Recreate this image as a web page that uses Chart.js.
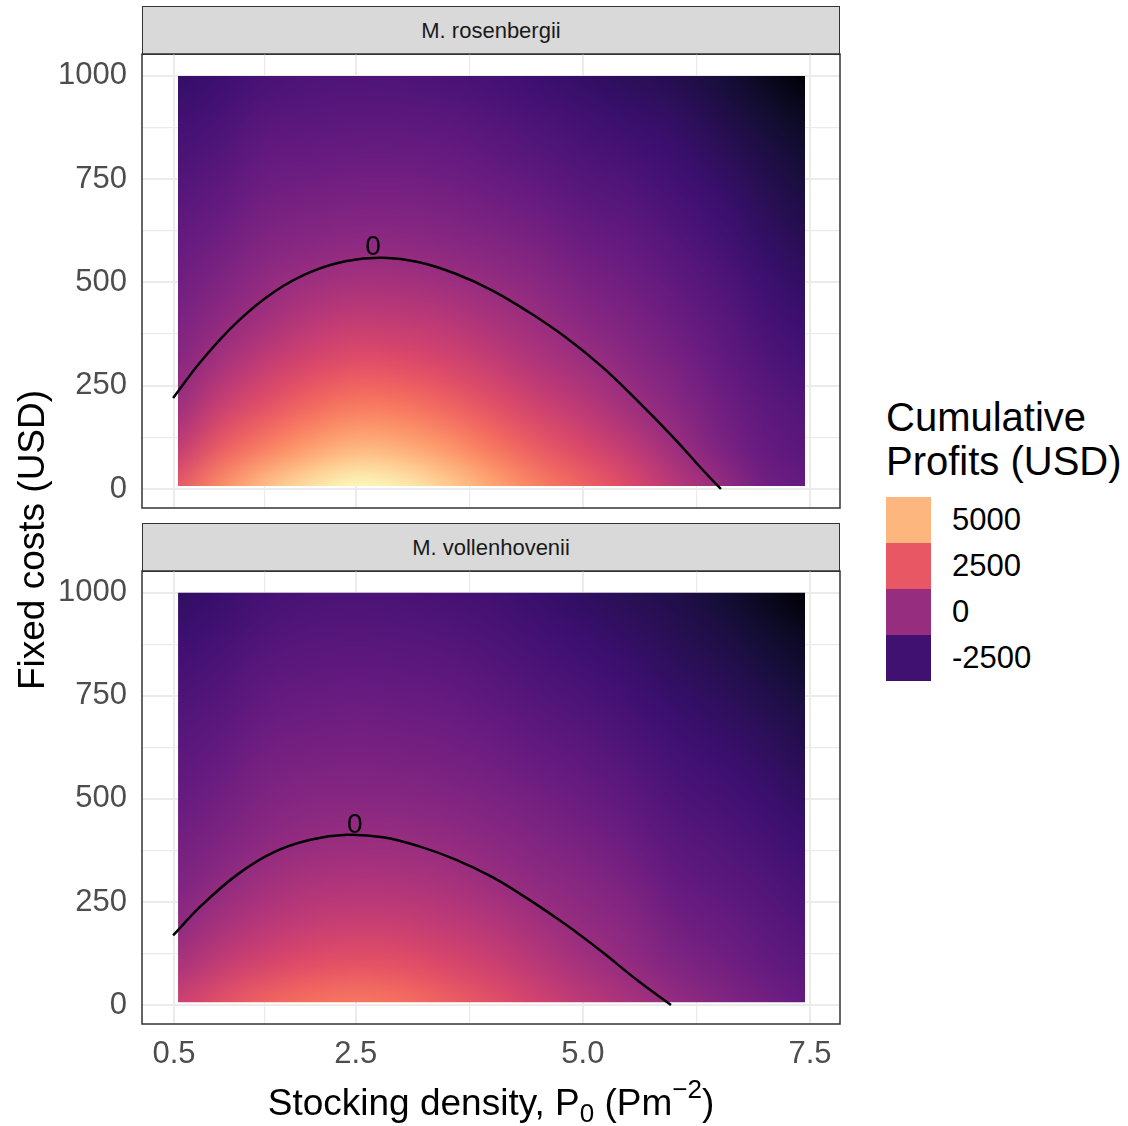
<!DOCTYPE html>
<html>
<head>
<meta charset="utf-8">
<script src="https://cdn.jsdelivr.net/npm/chart.js@4.4.1/dist/chart.umd.min.js"></script>
<style>
  body { margin: 0; background: #fff; font-family: "Liberation Sans", Arial, sans-serif; }
  #fig { position: relative; width: 1128px; height: 1126px; overflow: hidden; background: #fff; }
  canvas { position: absolute; left: 0; }
  .strip {
    position: absolute; left: 142px; width: 698px; height: 49px; box-sizing: border-box;
    background: #d9d9d9; border: 1.5px solid #333; color: #1a1a1a; font-size: 22px;
    display: flex; align-items: center; justify-content: center;
  }
  #ytitle {
    position: absolute; left: -268px; top: 518px; width: 600px; height: 44px; line-height: 44px;
    text-align: center; font-size: 37px; color: #000; transform: rotate(-90deg);
  }
  #xtitle {
    position: absolute; left: 142px; width: 698px; top: 1081px; line-height: 44px;
    text-align: center; font-size: 37px; color: #000; white-space: nowrap;
  }
  #xtitle sub, #xtitle sup { font-size: 26px; line-height: 0; }
  #xtitle sub { vertical-align: -7px; }
  #xtitle sup { vertical-align: 17px; }
  #legend { position: absolute; left: 886px; top: 395px; }
  #legend .ltitle { font-size: 40px; line-height: 44px; color: #000; white-space: nowrap; margin-bottom: 14px; }
  #legend .row { position: relative; height: 46px; }
  #legend .key { position: absolute; left: 0; top: 0; width: 45px; height: 46px; }
  #legend .lab { position: absolute; left: 66px; top: 0; line-height: 46px; font-size: 31px; color: #000; }
</style>
</head>
<body>
<div id="fig">
  <div class="strip" style="top:6px">M. rosenbergii</div>
  <canvas id="topPanel" width="846" height="462" style="top:50px"></canvas>
  <div class="strip" style="top:523px">M. vollenhovenii</div>
  <canvas id="bottomPanel" width="846" height="514" style="top:567px"></canvas>
  <div id="ytitle">Fixed costs (USD)</div>
  <div id="xtitle">Stocking density, P<sub>0</sub> (Pm<sup>&minus;2</sup>)</div>
  <div id="legend"><div class="ltitle">Cumulative<br>Profits (USD)</div></div>
</div>
<script>
// grid of the heat map: stocking density (columns) x fixed costs (rows)
const densities = [0.5, 1.0, 1.5, 2.0, 2.5, 3.0, 3.5, 4.0, 4.5, 5.0, 5.5, 6.0, 6.5, 7.0, 7.5];
const fixedCosts = [0, 100, 200, 300, 400, 500, 600, 700, 800, 900, 1000];

// cumulative profits (USD), one row per fixed cost (0 at first)
const rosenbergiiProfit = [
  [2500, 4000, 5300, 6200, 6800, 6500, 5700, 4700, 3700, 2900, 2100, 1000, 50, -1100, -1500],
  [1100, 2600, 3600, 4400, 5000, 4800, 4200, 3400, 2600, 1900, 1150, 200, -750, -1450, -1800],
  [80, 1400, 2300, 3000, 3500, 3400, 2900, 2300, 1600, 1000, 250, -400, -1100, -1700, -2050],
  [-450, 450, 1300, 1900, 2300, 2200, 1850, 1350, 750, 250, -300, -850, -1450, -2000, -2400],
  [-850, -200, 380, 1000, 1300, 1200, 1000, 550, 150, -350, -750, -1250, -1750, -2300, -2700],
  [-1200, -700, -150, 200, 450, 380, 180, -80, -400, -850, -1150, -1600, -2050, -2600, -3000],
  [-1500, -1150, -650, -450, -300, -300, -450, -650, -900, -1300, -1550, -1950, -2400, -2900, -3300],
  [-1850, -1550, -1100, -950, -850, -850, -950, -1150, -1400, -1750, -1950, -2300, -2700, -3200, -3600],
  [-2200, -1950, -1500, -1400, -1350, -1350, -1400, -1600, -1850, -2150, -2350, -2650, -3050, -3500, -3900],
  [-2550, -2300, -1900, -1800, -1750, -1750, -1800, -2000, -2250, -2500, -2750, -2950, -3400, -3850, -4400],
  [-2900, -2650, -2300, -2150, -2100, -2150, -2250, -2400, -2650, -2900, -3150, -3350, -3750, -4400, -5040]
];
const vollenhoveniiProfit = [
  [1500, 2300, 2900, 3300, 3500, 3300, 2800, 2300, 1700, 1100, 550, -50, -550, -1050, -1450],
  [450, 1200, 1800, 2200, 2350, 2250, 1900, 1500, 950, 350, -100, -650, -1050, -1450, -1800],
  [-300, 380, 900, 1250, 1400, 1350, 1100, 800, 300, -150, -450, -1100, -1400, -1750, -2100],
  [-750, -250, 250, 550, 650, 600, 450, 100, -250, -500, -900, -1450, -1750, -2050, -2400],
  [-1100, -750, -300, -50, 50, 0, -150, -350, -650, -950, -1300, -1800, -2050, -2350, -2700],
  [-1450, -1100, -700, -500, -450, -500, -600, -800, -1050, -1350, -1650, -2100, -2350, -2650, -3000],
  [-1750, -1450, -1050, -900, -850, -900, -1000, -1200, -1450, -1700, -2000, -2400, -2650, -2950, -3300],
  [-2050, -1800, -1400, -1250, -1200, -1250, -1350, -1550, -1800, -2050, -2350, -2700, -2950, -3250, -3600],
  [-2350, -2100, -1750, -1600, -1550, -1600, -1700, -1900, -2150, -2400, -2650, -3000, -3250, -3600, -3950],
  [-2700, -2450, -2100, -1950, -1900, -1950, -2050, -2200, -2450, -2700, -2950, -3250, -3550, -3950, -4450],
  [-3000, -2750, -2400, -2250, -2200, -2250, -2350, -2500, -2750, -3000, -3250, -3450, -3850, -4450, -5040]
];

// zero-profit contour
const rosenbergiiZeroDensity = [0.49, 0.8, 1.2, 1.6, 2.0, 2.4, 2.8, 3.2, 3.6, 4.0, 4.4, 4.8, 5.2, 5.6, 6.0, 6.32, 6.52];
const rosenbergiiZeroCost = [220, 310, 405, 477, 525, 552, 560, 549, 521, 481, 429, 369, 298, 214, 124, 46, 0];
const vollenhoveniiZeroDensity = [0.49, 0.8, 1.2, 1.6, 2.0, 2.4, 2.8, 3.2, 3.6, 4.0, 4.4, 4.8, 5.2, 5.6, 5.97];
const vollenhoveniiZeroCost = [169, 241, 317, 371, 401, 413, 407, 385, 353, 311, 257, 197, 131, 60, 0];
// where the "0" label of each contour sits
const zeroLabelDensity = [2.69, 2.49];
const zeroLabelCost = [586, 436];

const legendBreaks = [5000, 2500, 0, -2500];
const xTicks = [0.5, 2.5, 5.0, 7.5];
const xMinorTicks = [1.5, 3.75, 6.25];
const yTicks = [0, 250, 500, 750, 1000];
const yMinorTicks = [125, 375, 625, 875];

// axis limits and the extent of the tiles
const X_RANGE = [0.148, 7.83];
const Y_RANGE = [-46, 1053];
const HEAT_X = [0.545, 7.445];
const HEAT_Y = [7, 1000];
const FONT = "'Liberation Sans', Arial, sans-serif";
Chart.defaults.font.family = FONT;

// magma palette
const magmaStops = ["#000004", "#140e36", "#3b0f70", "#641a80", "#8c2981", "#b73779",
  "#de4968", "#f7705c", "#fe9f6d", "#fecf92", "#fcfdbf"].map(h => [1, 3, 5].map(k => parseInt(h.substr(k, 2), 16)));
const allValues = rosenbergiiProfit.flat().concat(vollenhoveniiProfit.flat());
const vMin = Math.min(...allValues);
const vMax = Math.max(...allValues);

function profitRgb(v) {
  const t = Math.min(1, Math.max(0, (v - vMin) / (vMax - vMin))) * (magmaStops.length - 1);
  const i = Math.min(Math.floor(t), magmaStops.length - 2);
  const f = t - i;
  const a = magmaStops[i], b = magmaStops[i + 1];
  return [0, 1, 2].map(k => Math.round(a[k] + (b[k] - a[k]) * f));
}

// one pixel per tile, stretched over the panel later
function buildTiles(profit) {
  const c = document.createElement("canvas");
  c.width = densities.length;
  c.height = fixedCosts.length;
  const g = c.getContext("2d");
  const img = g.createImageData(c.width, c.height);
  profit.forEach((row, j) => {
    const py = c.height - 1 - j;
    row.forEach((v, i) => {
      const rgb = profitRgb(v);
      const o = (py * c.width + i) * 4;
      img.data[o] = rgb[0];
      img.data[o + 1] = rgb[1];
      img.data[o + 2] = rgb[2];
      img.data[o + 3] = 255;
    });
  });
  g.putImageData(img, 0, 0);
  return c;
}

function panelPlugin(tiles, labelIdx) {
  return {
    id: "panel" + labelIdx,
    beforeDatasetsDraw(chart) {
      const { ctx, scales: { x, y } } = chart;
      const hx = (densities[1] - densities[0]) / 2;
      const hy = (fixedCosts[1] - fixedCosts[0]) / 2;
      const l = x.getPixelForValue(densities[0] - hx);
      const r = x.getPixelForValue(densities[densities.length - 1] + hx);
      const t = y.getPixelForValue(fixedCosts[fixedCosts.length - 1] + hy);
      const b = y.getPixelForValue(fixedCosts[0] - hy);
      const cl = x.getPixelForValue(HEAT_X[0]), cr = x.getPixelForValue(HEAT_X[1]);
      const ct = y.getPixelForValue(HEAT_Y[1]), cb = y.getPixelForValue(HEAT_Y[0]);
      ctx.save();
      ctx.beginPath();
      ctx.rect(cl, ct, cr - cl, cb - ct);
      ctx.clip();
      ctx.imageSmoothingEnabled = true;
      ctx.imageSmoothingQuality = "high";
      ctx.drawImage(tiles, l, t, r - l, b - t);
      ctx.restore();
    },
    afterDatasetsDraw(chart) {
      const { ctx, scales: { x, y } } = chart;
      ctx.save();
      ctx.fillStyle = "#000";
      ctx.font = "28px " + FONT;
      ctx.textAlign = "center";
      ctx.textBaseline = "middle";
      ctx.fillText("0", x.getPixelForValue(zeroLabelDensity[labelIdx]), y.getPixelForValue(zeroLabelCost[labelIdx]));
      ctx.restore();
    },
    afterDraw(chart) {
      const { ctx, chartArea: a } = chart;
      ctx.save();
      ctx.strokeStyle = "#333333";
      ctx.lineWidth = 1.5;
      ctx.strokeRect(a.left, a.top, a.right - a.left, a.bottom - a.top);
      ctx.restore();
    }
  };
}

// no extra room for labels that stick out: the panel size is fixed
function noPadding(s) {
  s.paddingTop = 0;
  s.paddingBottom = 0;
  s.paddingLeft = 0;
  s.paddingRight = 0;
}

function makePanel(canvasId, profit, zeroD, zeroC, labelIdx, showX) {
  const tickFont = { size: 31, lineHeight: 1.2, family: FONT };
  return new Chart(document.getElementById(canvasId), {
    type: "line",
    data: {
      datasets: [{
        data: zeroD.map((d, i) => ({ x: d, y: zeroC[i] })),
        borderColor: "#000",
        borderWidth: 2.5,
        pointRadius: 0,
        tension: 0.4,
        fill: false
      }]
    },
    options: {
      responsive: false,
      animation: false,
      events: [],
      layout: { padding: { left: 0, top: 4, right: 6, bottom: showX ? 2 : 4 } },
      plugins: { legend: { display: false }, tooltip: { enabled: false } },
      scales: {
        x: {
          type: "linear",
          min: X_RANGE[0],
          max: X_RANGE[1],
          afterBuildTicks: s => { s.ticks = xTicks.concat(xMinorTicks).sort((a, b) => a - b).map(v => ({ value: v })); },
          afterFit: s => { s.height = showX ? 55 : 0; noPadding(s); },
          grid: { color: "#ebebeb", drawTicks: false, lineWidth: c => (xTicks.includes(c.tick && c.tick.value) ? 2 : 1.2) },
          border: { display: false },
          ticks: {
            display: showX,
            padding: 12,
            maxRotation: 0,
            autoSkip: false,
            color: "#4d4d4d",
            font: tickFont,
            callback: v => (xTicks.includes(v) ? v.toFixed(1) : "")
          }
        },
        y: {
          min: Y_RANGE[0],
          max: Y_RANGE[1],
          afterBuildTicks: s => { s.ticks = yTicks.concat(yMinorTicks).sort((a, b) => a - b).map(v => ({ value: v })); },
          afterFit: s => { s.width = 142; noPadding(s); },
          grid: { color: "#ebebeb", drawTicks: false, lineWidth: c => (yTicks.includes(c.tick && c.tick.value) ? 2 : 1.2) },
          border: { display: false },
          ticks: {
            padding: 15,
            autoSkip: false,
            color: "#4d4d4d",
            font: tickFont,
            callback: v => (yTicks.includes(v) ? String(v) : "")
          }
        }
      }
    },
    plugins: [panelPlugin(buildTiles(profit), labelIdx)]
  });
}

makePanel("topPanel", rosenbergiiProfit, rosenbergiiZeroDensity, rosenbergiiZeroCost, 0, false);
makePanel("bottomPanel", vollenhoveniiProfit, vollenhoveniiZeroDensity, vollenhoveniiZeroCost, 1, true);

// legend keys
const legendBox = document.getElementById("legend");
legendBreaks.forEach(v => {
  const row = document.createElement("div");
  row.className = "row";
  const key = document.createElement("div");
  key.className = "key";
  key.style.background = "rgb(" + profitRgb(v).join(",") + ")";
  const lab = document.createElement("div");
  lab.className = "lab";
  lab.textContent = String(v);
  row.appendChild(key);
  row.appendChild(lab);
  legendBox.appendChild(row);
});
</script>
</body>
</html>
